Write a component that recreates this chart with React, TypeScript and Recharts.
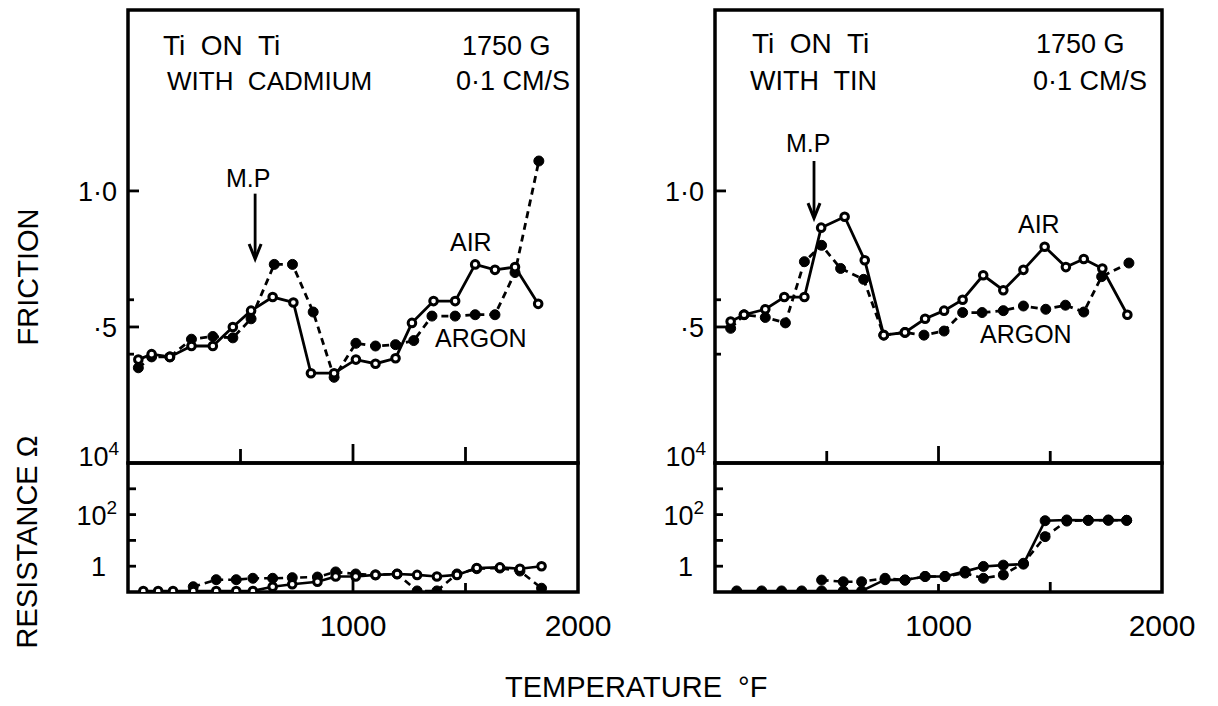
import { Line, LineChart, ReferenceArea, ReferenceLine, XAxis, YAxis } from "recharts"

const INK = "#000"
const FONT = "'Liberation Sans', Arial, sans-serif"

// Ti on Ti with cadmium: friction vs temperature (°F)
const cdAirTemp = [46, 105, 186, 282, 377, 466, 547, 643, 735, 813, 916, 1013, 1100, 1189, 1262, 1358, 1454, 1543, 1631, 1720, 1823]
const cdAirFriction = [0.38, 0.4, 0.39, 0.43, 0.43, 0.5, 0.56, 0.61, 0.59, 0.33, 0.33, 0.38, 0.365, 0.385, 0.515, 0.595, 0.595, 0.73, 0.71, 0.72, 0.585]
const cdArgonTemp = [46, 105, 186, 282, 377, 466, 547, 650, 731, 823, 916, 1013, 1100, 1189, 1270, 1351, 1454, 1543, 1631, 1720, 1826]
const cdArgonFriction = [0.35, 0.39, 0.39, 0.455, 0.465, 0.46, 0.53, 0.73, 0.73, 0.555, 0.315, 0.44, 0.43, 0.435, 0.45, 0.54, 0.54, 0.545, 0.545, 0.7, 1.11]

// Ti on Ti with cadmium: contact resistance (ohm)
const cdAirResTemp = [68, 134, 200, 290, 392, 481, 555, 643, 730, 842, 923, 1012, 1100, 1196, 1285, 1373, 1462, 1550, 1653, 1742, 1838]
const cdAirResistance = [0.11, 0.11, 0.11, 0.11, 0.11, 0.11, 0.11, 0.16, 0.2, 0.25, 0.4, 0.4, 0.46, 0.5, 0.46, 0.4, 0.46, 0.85, 0.9, 0.8, 1.0]
const cdArgonResTemp = [290, 392, 481, 555, 643, 730, 842, 923, 1012, 1100, 1196, 1285, 1373, 1462, 1550, 1653, 1742, 1838]
const cdArgonResistance = [0.16, 0.3, 0.3, 0.34, 0.34, 0.36, 0.38, 0.6, 0.5, 0.46, 0.5, 0.11, 0.11, 0.5, 0.8, 0.85, 0.65, 0.14]

// Ti on Ti with tin: friction
const snAirTemp = [70, 130, 225, 310, 400, 475, 580, 670, 755, 850, 940, 1025, 1108, 1200, 1290, 1380, 1475, 1570, 1650, 1733, 1845]
const snAirFriction = [0.52, 0.545, 0.565, 0.61, 0.61, 0.865, 0.905, 0.745, 0.47, 0.48, 0.53, 0.56, 0.6, 0.69, 0.635, 0.71, 0.795, 0.72, 0.75, 0.715, 0.545]
const snArgonTemp = [70, 130, 225, 315, 400, 477, 562, 665, 755, 850, 935, 1025, 1108, 1195, 1290, 1380, 1480, 1568, 1650, 1730, 1852]
const snArgonFriction = [0.495, 0.545, 0.535, 0.515, 0.74, 0.8, 0.715, 0.675, 0.47, 0.48, 0.47, 0.485, 0.553, 0.553, 0.56, 0.577, 0.565, 0.58, 0.555, 0.685, 0.735]

// Ti on Ti with tin: contact resistance
const snAirResTemp = [97, 209, 298, 388, 477, 574, 656, 761, 850, 940, 1029, 1119, 1201, 1290, 1380, 1477, 1574, 1670, 1760, 1842]
const snAirResistance = [0.11, 0.11, 0.11, 0.11, 0.11, 0.11, 0.11, 0.3, 0.29, 0.4, 0.4, 0.63, 0.98, 1.1, 1.2, 58, 62, 60, 62, 60]
const snArgonResTemp = [477, 574, 656, 761, 850, 940, 1029, 1119, 1201, 1290, 1380, 1477, 1574, 1670, 1760, 1842]
const snArgonResistance = [0.29, 0.25, 0.25, 0.34, 0.29, 0.4, 0.4, 0.54, 0.34, 0.46, 1.3, 14, 56, 60, 60, 60]

// melting point arrows (temperature, friction from / to)
const cdMelt = { t: 565, from: 0.99, to: 0.75 }
const snMelt = { t: 443, from: 1.11, to: 0.9 }

const frictionTicks = [0.4, 0.5, 0.6, 1]
const resistanceTicks = [1, 10, 100, 1000, 10000]
const dividerTicks = [500, 1000, 1500]
const tempTicks = [1000, 1500, 2000]

const FRICTION_MAX = 1.665
const RES_MIN = 0.1
const RES_MAX = 10000

type Pt = { t: number; v: number }
const pair = (temps: number[], values: number[]): Pt[] => temps.map((t, i) => ({ t, v: values[i] }))

const airDot = { r: 3.8, fill: "#fff", stroke: INK, strokeWidth: 3, strokeDasharray: "none" }
const argonDot = { r: 5, fill: INK, stroke: INK, strokeWidth: 1, strokeDasharray: "none" }

function FrictionTick({ x, y, payload }: any) {
  const v = payload.value
  const label = v === 1 ? "1·0" : v === 0.5 ? "·5" : ""
  const len = label ? 11 : 6
  return (
    <g>
      <line x1={x} y1={y} x2={x + len} y2={y} stroke={INK} strokeWidth={2.8} />
      {label && (
        <text x={x - 11} y={y + 10} textAnchor="end" fontSize={27} fill={INK}>
          {label}
        </text>
      )}
    </g>
  )
}

function ResistanceTick({ x, y, payload }: any) {
  const v = payload.value
  return (
    <g>
      {v < RES_MAX && <line x1={x} y1={y} x2={x + 8} y2={y} stroke={INK} strokeWidth={2.8} />}
      {v === RES_MAX && (
        <text x={x - 9} y={y + 3} textAnchor="end" fontSize={27} fill={INK}>
          10<tspan dy={-11} fontSize={19}>4</tspan>
        </text>
      )}
      {v === 100 && (
        <text x={x - 11} y={y + 10} textAnchor="end" fontSize={27} fill={INK}>
          10<tspan dy={-11} fontSize={19}>2</tspan>
        </text>
      )}
      {v === 1 && (
        <text x={x - 22} y={y + 10} textAnchor="end" fontSize={27} fill={INK}>
          1
        </text>
      )}
    </g>
  )
}

const makeDividerTick = (lens: Record<number, number>) => ({ x, y, payload }: any) => (
  <line x1={x} y1={y} x2={x} y2={y - (lens[payload.value] ?? 0)} stroke={INK} strokeWidth={2.8} />
)

const makeTempTick = (lens: Record<number, number>) => ({ x, y, payload }: any) => {
  const v = payload.value
  return (
    <g>
      {lens[v] ? <line x1={x} y1={y} x2={x} y2={y - lens[v]} stroke={INK} strokeWidth={2.8} /> : null}
      {v !== 1500 && (
        <text x={x} y={y + 44} textAnchor="middle" fontSize={30} fill={INK}>
          {v}
        </text>
      )}
    </g>
  )
}

function MeltArrow({ x1, y1, x2, y2 }: any) {
  return (
    <g>
      <line x1={x1} y1={y1} x2={x2} y2={y2 - 3} stroke={INK} strokeWidth={2.8} />
      <path d={`M${x2 - 6},${y2 - 15} L${x2},${y2} L${x2 + 6},${y2 - 15}`} fill="none" stroke={INK} strokeWidth={3} />
    </g>
  )
}

interface PanelProps {
  left: number
  width: number
  axisWidth: number
  marginRight: number
  airFriction: Pt[]
  argonFriction: Pt[]
  airResistance: Pt[]
  argonResistance: Pt[]
  airResDot: object
  melt: { t: number; from: number; to: number }
  dividerLens: Record<number, number>
  baseLens: Record<number, number>
}

function Panel(p: PanelProps) {
  const frictionMargin = { top: 10, right: p.marginRight, bottom: 0, left: 0 }
  const resistanceMargin = { top: 43, right: p.marginRight, bottom: 0, left: 0 }
  return (
    <>
      <div style={{ position: "absolute", left: p.left, top: 0 }}>
        <LineChart width={p.width} height={470} margin={frictionMargin}>
          <XAxis
            dataKey="t"
            type="number"
            domain={[0, 2000]}
            ticks={dividerTicks}
            interval={0}
            height={7}
            axisLine={false}
            tickLine={false}
            tickSize={0}
            tickMargin={0}
            tick={makeDividerTick(p.dividerLens)}
            allowDataOverflow
          />
          <YAxis
            dataKey="v"
            type="number"
            domain={[0, FRICTION_MAX]}
            ticks={frictionTicks}
            interval={0}
            width={p.axisWidth}
            axisLine={false}
            tickLine={false}
            tickSize={0}
            tickMargin={0}
            tick={FrictionTick}
            allowDataOverflow
          />
          <ReferenceArea x1={0} x2={2000} y1={0} y2={FRICTION_MAX} fill="none" fillOpacity={0} stroke={INK} strokeWidth={3.5} />
          <ReferenceLine
            segment={[
              { x: p.melt.t, y: p.melt.from },
              { x: p.melt.t, y: p.melt.to },
            ]}
            shape={MeltArrow}
          />
          <Line data={p.argonFriction} dataKey="v" type="linear" stroke={INK} strokeWidth={2.8} strokeDasharray="7 5" dot={argonDot} isAnimationActive={false} />
          <Line data={p.airFriction} dataKey="v" type="linear" stroke={INK} strokeWidth={2.8} dot={airDot} isAnimationActive={false} />
        </LineChart>
      </div>
      <div style={{ position: "absolute", left: p.left, top: 420 }}>
        <LineChart width={p.width} height={222} margin={resistanceMargin}>
          <XAxis
            dataKey="t"
            type="number"
            domain={[0, 2000]}
            ticks={tempTicks}
            interval={0}
            height={50}
            axisLine={false}
            tickLine={false}
            tickSize={0}
            tickMargin={0}
            tick={makeTempTick(p.baseLens)}
            allowDataOverflow
          />
          <YAxis
            dataKey="v"
            type="number"
            scale="log"
            domain={[RES_MIN, RES_MAX]}
            ticks={resistanceTicks}
            interval={0}
            width={p.axisWidth}
            axisLine={false}
            tickLine={false}
            tickSize={0}
            tickMargin={0}
            tick={ResistanceTick}
            allowDataOverflow
          />
          <ReferenceArea x1={0} x2={2000} y1={RES_MIN} y2={RES_MAX} fill="none" fillOpacity={0} stroke={INK} strokeWidth={3.5} />
          <Line data={p.argonResistance} dataKey="v" type="linear" stroke={INK} strokeWidth={2.6} strokeDasharray="7 5" dot={argonDot} isAnimationActive={false} />
          <Line data={p.airResistance} dataKey="v" type="linear" stroke={INK} strokeWidth={2.6} dot={p.airResDot} isAnimationActive={false} />
        </LineChart>
      </div>
    </>
  )
}

function Caption({ x, y, size = 27, children }: { x: number; y: number; size?: number; children: string }) {
  return (
    <text x={x} y={y} fontSize={size} fill={INK} style={{ whiteSpace: "pre" }}>
      {children}
    </text>
  )
}

export default function App() {
  return (
    <div style={{ position: "absolute", left: 0, top: 0, width: 1218, height: 706, background: "#fff", fontFamily: FONT, overflow: "hidden" }}>
      <Panel
        left={0}
        width={640}
        axisWidth={128}
        marginRight={62}
        airFriction={pair(cdAirTemp, cdAirFriction)}
        argonFriction={pair(cdArgonTemp, cdArgonFriction)}
        airResistance={pair(cdAirResTemp, cdAirResistance)}
        argonResistance={pair(cdArgonResTemp, cdArgonResistance)}
        airResDot={airDot}
        melt={cdMelt}
        dividerLens={{ 500: 14, 1000: 19, 1500: 16 }}
        baseLens={{ 1000: 14, 1500: 9 }}
      />
      <Panel
        left={600}
        width={618}
        axisWidth={115}
        marginRight={56}
        airFriction={pair(snAirTemp, snAirFriction)}
        argonFriction={pair(snArgonTemp, snArgonFriction)}
        airResistance={pair(snAirResTemp, snAirResistance)}
        argonResistance={pair(snArgonResTemp, snArgonResistance)}
        airResDot={argonDot}
        melt={snMelt}
        dividerLens={{ 500: 12, 1000: 17, 1500: 12 }}
        baseLens={{ 1000: 8, 1500: 10 }}
      />
      <svg width={1218} height={706} style={{ position: "absolute", left: 0, top: 0, pointerEvents: "none" }}>
        {/* left panel notes */}
        <Caption x={163} y={55} size={28}>{"Ti  ON  Ti"}</Caption>
        <Caption x={167} y={90} size={26}>{"WITH  CADMIUM"}</Caption>
        <Caption x={462} y={55}>1750 G</Caption>
        <Caption x={456} y={90}>0·1 CM/S</Caption>
        <Caption x={226} y={187} size={25}>M.P</Caption>
        <Caption x={450} y={251} size={25}>AIR</Caption>
        <Caption x={435} y={347} size={25}>ARGON</Caption>
        {/* right panel notes */}
        <Caption x={752} y={53} size={28}>{"Ti  ON  Ti"}</Caption>
        <Caption x={750} y={90} size={27}>{"WITH  TIN"}</Caption>
        <Caption x={1036} y={53}>1750 G</Caption>
        <Caption x={1033} y={90}>0·1 CM/S</Caption>
        <Caption x={786} y={152} size={25}>M.P</Caption>
        <Caption x={1018} y={233} size={25}>AIR</Caption>
        <Caption x={980} y={343} size={25}>ARGON</Caption>
        {/* axis titles */}
        <text x={38} y={277} transform="rotate(-90 38 277)" textAnchor="middle" fontSize={29} fill={INK}>
          FRICTION
        </text>
        <text x={37} y={542} transform="rotate(-90 37 542)" textAnchor="middle" fontSize={29} fill={INK}>
          RESISTANCE Ω
        </text>
        <Caption x={505} y={697} size={29}>{"TEMPERATURE  °F"}</Caption>
      </svg>
    </div>
  )
}
